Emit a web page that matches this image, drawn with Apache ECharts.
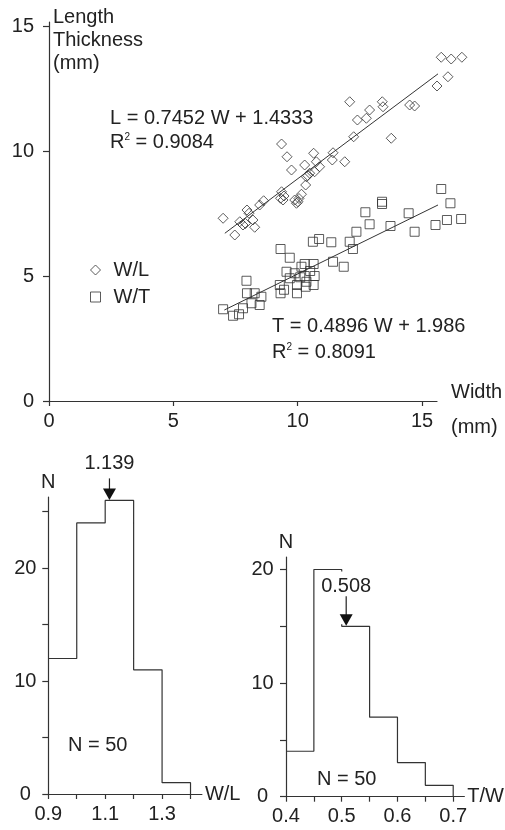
<!DOCTYPE html>
<html><head><meta charset="utf-8">
<script src="https://cdn.jsdelivr.net/npm/echarts@6/dist/echarts.min.js"></script>
<style>html,body{margin:0;padding:0;background:#fff;}#c{width:505px;height:830px;}</style>
</head><body><div id="c"></div>
<script>
const FONT = '"Liberation Sans", Arial, Helvetica, sans-serif';
const INK = '#222';

// --- Scatter: width vs length (W/L) ---
const widthWL  = [7.00,7.47,7.67,7.80,7.96,8.04,8.20,8.27,8.47,8.63,9.35,9.31,9.41,9.35,9.57,9.75,9.88,9.95,10.01,10.15,10.28,10.35,10.32,10.48,10.64,10.68,10.75,10.88,11.42,11.39,11.89,12.09,12.25,12.40,12.76,12.89,13.40,13.43,13.76,14.50,14.70,15.60,16.04,15.77,16.17,16.60,7.90,9.45,10.05,10.40];
const lengthWL = [7.31,6.64,7.17,7.04,7.64,7.51,7.24,6.95,7.84,8.01,8.37,8.11,8.04,10.28,9.77,9.24,8.04,7.91,7.97,8.27,9.44,8.97,8.64,9.11,9.91,9.17,9.57,9.37,9.93,9.64,9.57,11.97,10.57,11.24,11.31,11.64,11.97,11.77,10.51,11.84,11.80,12.60,12.97,13.75,13.68,13.75,7.10,8.20,8.10,9.02];
// --- Scatter: width vs thickness (W/T) ---
const widthWT  = [7.00,7.40,7.64,7.80,7.94,7.96,8.14,8.27,8.47,8.54,9.31,9.68,9.28,9.31,9.55,9.68,9.88,9.97,9.97,10.15,10.28,10.28,10.35,10.32,10.64,10.68,10.64,10.61,10.86,11.35,11.42,11.85,12.09,12.22,12.36,12.72,12.89,13.39,13.39,13.73,14.46,14.70,15.54,15.77,16.00,16.14,16.57,9.45,10.10,10.50];
const thickWT  = [3.67,3.41,3.47,3.71,4.81,4.31,3.91,4.31,3.84,4.17,6.08,5.73,4.64,4.31,5.17,4.91,5.11,4.64,4.31,5.37,5.48,5.00,4.77,4.57,5.48,5.00,4.64,6.37,6.48,6.35,5.57,5.37,6.37,6.08,6.77,7.55,7.07,7.97,7.88,7.00,7.51,6.77,7.04,8.48,7.24,7.91,7.28,4.45,4.95,5.20];
// regression lines as drawn (end points)
const fitLX = [7.07, 16.6], fitLY = [6.71, 13.8];
const fitTX = [7.05, 16.6], fitTY = [3.64, 8.31];
const scatterTicks = [0, 5, 10, 15];

// --- Histogram W/L ---
const wlEdges  = [0.9, 1.0, 1.1, 1.2, 1.3, 1.4];
const wlCounts = [12, 24, 26, 11, 1];
const wlXLabels = [0.9, 1.1, 1.3];
const wlYTicks = [0, 5, 10, 15, 20, 25];
const wlMeanLabel = '1.139', wlArrowX = 1.115;
// --- Histogram T/W ---
const twEdges  = [0.4, 0.45, 0.5, 0.55, 0.6, 0.65, 0.7];
const twCounts = [4, 20, 15, 7, 3, 1];
const twXLabels = [0.4, 0.5, 0.6, 0.7];
const twYTicks = [0, 5, 10, 15, 20];
const twMeanLabel = '0.508', twArrowX = 0.508;
const histYLabels = [0, 10, 20];

const zip = (a, b) => a.map((v, i) => [v, b[i]]);
const stepData = (edges, counts) => edges.map((e, i) => [e, i < counts.length ? counts[i] : 0]);
const heightAt = (edges, counts, x) => { for (let i = 0; i < counts.length; i++) if (x >= edges[i] && x < edges[i+1]) return counts[i]; return 0; };
const binIndex = (edges, x) => { for (let i = 0; i < edges.length - 1; i++) if (x >= edges[i] && x < edges[i+1]) return i; return -1; };

const lineStyle = { color: '#333', width: 1.2 };
function xAxisCfg(grid, min, max, ticks, labels, name, fmt) {
  return {
    type: 'value', gridIndex: grid, min, max, name, nameLocation: 'end', nameGap: 3,
    nameTextStyle: { fontFamily: FONT, fontSize: 20, color: INK, verticalAlign: 'middle' },
    splitLine: { show: false },
    axisLine: { show: true, onZero: false, lineStyle },
    axisTick: { show: true, length: 5, lineStyle, customValues: ticks },
    axisLabel: { fontFamily: FONT, fontSize: 20, color: INK, margin: 10, customValues: labels, formatter: fmt }
  };
}
function yAxisCfg(grid, min, max, ticks, labels, name, align, margin) {
  return {
    type: 'value', gridIndex: grid, min, max, name, nameLocation: 'end', nameGap: 5,
    nameTextStyle: { fontFamily: FONT, fontSize: 20, color: INK },
    splitLine: { show: false },
    axisLine: { show: true, onZero: false, lineStyle },
    axisTick: { show: true, length: 6, lineStyle, customValues: ticks },
    axisLabel: { fontFamily: FONT, fontSize: 20, color: INK, margin, align, customValues: labels }
  };
}

function arrowSeries(idx, x, y, label, lineLen, textOff, coverFrom) {
  return {
    type: 'custom', xAxisIndex: idx, yAxisIndex: idx, z: 10, silent: true, clip: false,
    data: [[x, y]],
    renderItem(params, api) {
      const p = api.coord([api.value(0), api.value(1)]);
      const ch = [];
      if (coverFrom != null) {
        const top = api.coord([api.value(0), coverFrom])[1];
        ch.push({ type: 'rect', shape: { x: p[0] - 28, y: top + 2, width: 56, height: p[1] - top - 4 }, style: { fill: '#fff' } });
      }
      ch.push({ type: 'line', shape: { x1: p[0], y1: p[1] - lineLen, x2: p[0], y2: p[1] - 11 }, style: { stroke: '#222', lineWidth: 1.2 } });
      ch.push({ type: 'polygon', shape: { points: [[p[0] - 6.5, p[1] - 12], [p[0] + 6.5, p[1] - 12], [p[0], p[1] - 0.5]] }, style: { fill: '#111' } });
      ch.push({ type: 'text', style: { text: label, x: p[0], y: p[1] - textOff, align: 'center', verticalAlign: 'middle', fontFamily: FONT, fontSize: 20, fill: INK } });
      return { type: 'group', children: ch };
    }
  };
}

const twBin = binIndex(twEdges, twArrowX);
const option = {
  animation: false,
  backgroundColor: '#fff',
  grid: [
    { left: 49, top: 22, width: 388, height: 379 },
    { left: 48.3, top: 497, width: 153.6, height: 297 },
    { left: 286, top: 557, width: 182.3, height: 239.7 }
  ],
  xAxis: [
    xAxisCfg(0, 0, 15.6, scatterTicks, scatterTicks, '', v => v),
    xAxisCfg(1, 0.9, 1.44, wlEdges, wlXLabels, 'W/L', v => Number(v).toFixed(1)),
    xAxisCfg(2, 0.4, 0.72, twEdges, twXLabels, 'T/W', v => Number(v).toFixed(1))
  ],
  yAxis: [
    yAxisCfg(0, 0, 15.16, scatterTicks, scatterTicks, '', 'right', 15),
    yAxisCfg(1, 0, 26.3, wlYTicks, histYLabels, 'N', 'center', 23),
    yAxisCfg(2, 0, 21.1, twYTicks, histYLabels, 'N', 'center', 23.5)
  ],
  legend: {
    orient: 'vertical', left: 85, top: 255, itemWidth: 10, itemHeight: 10, itemGap: 7,
    selectedMode: false, data: ['W/L', 'W/T'],
    itemStyle: { color: '#fff', borderColor: '#333', borderWidth: 1 },
    textStyle: { fontFamily: FONT, fontSize: 20, color: INK, padding: [0, 0, 0, 8] }
  },
  graphic: [
    { type: 'text', left: 53, top: 6, style: { text: 'Length\nThickness\n(mm)', fontFamily: FONT, fontSize: 20, lineHeight: 23, fill: INK } },
    { type: 'text', x: 110, y: 118, style: { text: 'L = 0.7452 W + 1.4333', fontFamily: FONT, fontSize: 20, fill: INK, verticalAlign: 'middle' } },
    { type: 'text', x: 110, y: 142, style: { text: 'R{s|2} = 0.9084', fontFamily: FONT, fontSize: 20, fill: INK, verticalAlign: 'middle', rich: { s: { fontSize: 10, verticalAlign: 'top', fontFamily: FONT, fill: INK } } } },
    { type: 'text', x: 272, y: 326, style: { text: 'T = 0.4896 W + 1.986', fontFamily: FONT, fontSize: 20, fill: INK, verticalAlign: 'middle' } },
    { type: 'text', x: 272, y: 352, style: { text: 'R{s|2} = 0.8091', fontFamily: FONT, fontSize: 20, fill: INK, verticalAlign: 'middle', rich: { s: { fontSize: 10, verticalAlign: 'top', fontFamily: FONT, fill: INK } } } },
    { type: 'text', x: 451, y: 392, style: { text: 'Width', fontFamily: FONT, fontSize: 20, fill: INK, verticalAlign: 'middle' } },
    { type: 'text', x: 451, y: 427, style: { text: '(mm)', fontFamily: FONT, fontSize: 20, fill: INK, verticalAlign: 'middle' } },
    { type: 'text', x: 68, y: 745, style: { text: 'N = 50', fontFamily: FONT, fontSize: 20, fill: INK, verticalAlign: 'middle' } },
    { type: 'text', x: 317, y: 779, style: { text: 'N = 50', fontFamily: FONT, fontSize: 20, fill: INK, verticalAlign: 'middle' } }
  ],
  series: [
    { name: 'fitL', type: 'line', xAxisIndex: 0, yAxisIndex: 0, data: zip(fitLX, fitLY), symbol: 'none', clip: false, silent: true, lineStyle: { color: '#333', width: 1 }, z: 1 },
    { name: 'fitT', type: 'line', xAxisIndex: 0, yAxisIndex: 0, data: zip(fitTX, fitTY), symbol: 'none', clip: false, silent: true, lineStyle: { color: '#333', width: 1 }, z: 1 },
    { name: 'W/L', type: 'scatter', xAxisIndex: 0, yAxisIndex: 0, data: zip(widthWL, lengthWL), symbol: 'diamond', symbolSize: 10, clip: false, silent: true,
      itemStyle: { color: 'rgba(0,0,0,0)', borderColor: '#333', borderWidth: 1 }, z: 2 },
    { name: 'W/T', type: 'scatter', xAxisIndex: 0, yAxisIndex: 0, data: zip(widthWT, thickWT), symbol: 'rect', symbolSize: 9, clip: false, silent: true,
      itemStyle: { color: 'rgba(0,0,0,0)', borderColor: '#333', borderWidth: 1 }, z: 2 },
    { name: 'histWL', type: 'line', xAxisIndex: 1, yAxisIndex: 1, data: stepData(wlEdges, wlCounts), step: 'end', symbol: 'none', silent: true, lineStyle: { color: '#333', width: 1.2 } },
    { name: 'histTW', type: 'line', xAxisIndex: 2, yAxisIndex: 2, data: stepData(twEdges, twCounts), step: 'end', symbol: 'none', silent: true, lineStyle: { color: '#333', width: 1.2 } },
    arrowSeries(1, wlArrowX, heightAt(wlEdges, wlCounts, wlArrowX), wlMeanLabel, 22, 37, null),
    arrowSeries(2, twArrowX, heightAt(twEdges, twCounts, twArrowX), twMeanLabel, 30, 40, twBin > 0 ? twCounts[twBin - 1] : null)
  ]
};
const chart = echarts.init(document.getElementById('c'), null, { renderer: 'canvas' });
chart.setOption(option);
</script></body></html>
